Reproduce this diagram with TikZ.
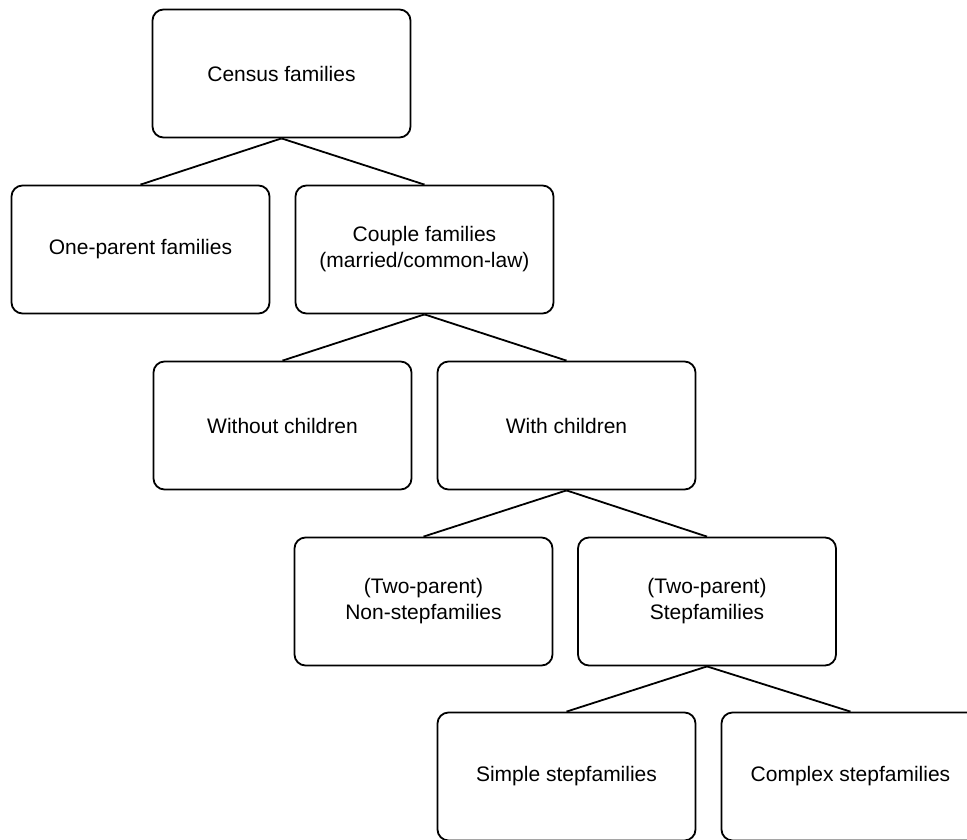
\documentclass[tikz,border=0pt]{standalone}
\usepackage{fontspec}
\setmainfont{Liberation Sans}
\begin{document}
\begin{tikzpicture}[x=1pt, y=-1pt, line width=1.8pt,
    famnode/.style={draw, rounded corners=11pt, minimum width=258pt, minimum height=128pt,
      align=center, font=\fontsize{21}{26}\selectfont}]
        \useasboundingbox (0,0) rectangle (967,839);
        \clip (0,0) rectangle (967,839);
        % tree of family types
        \node[famnode] (census) at (281.5,73.5) {Census families};
        \node[famnode] (oneparent) at (140.5,249.5) {One-parent families};
        \node[famnode] (couple) at (424.5,249.5) {Couple families\\(married/common-law)};
        \node[famnode] (without) at (282.5,425.5) {Without children};
        \node[famnode] (with) at (566.5,425.5) {With children};
        \node[famnode] (nonstep) at (423.5,601.5) {(Two-parent)\\Non-stepfamilies};
        \node[famnode] (step) at (707,601.5) {(Two-parent)\\Stepfamilies};
        \node[famnode] (simple) at (566.5,776.5) {Simple stepfamilies};
        \node[famnode] (complex) at (850.5,776.5) {Complex stepfamilies};
        \draw (census.south) -- (oneparent.north);
        \draw (census.south) -- (couple.north);
        \draw (couple.south) -- (without.north);
        \draw (couple.south) -- (with.north);
        \draw (with.south) -- (nonstep.north);
        \draw (with.south) -- (step.north);
        \draw (step.south) -- (simple.north);
        \draw (step.south) -- (complex.north);
\end{tikzpicture}
\end{document}
